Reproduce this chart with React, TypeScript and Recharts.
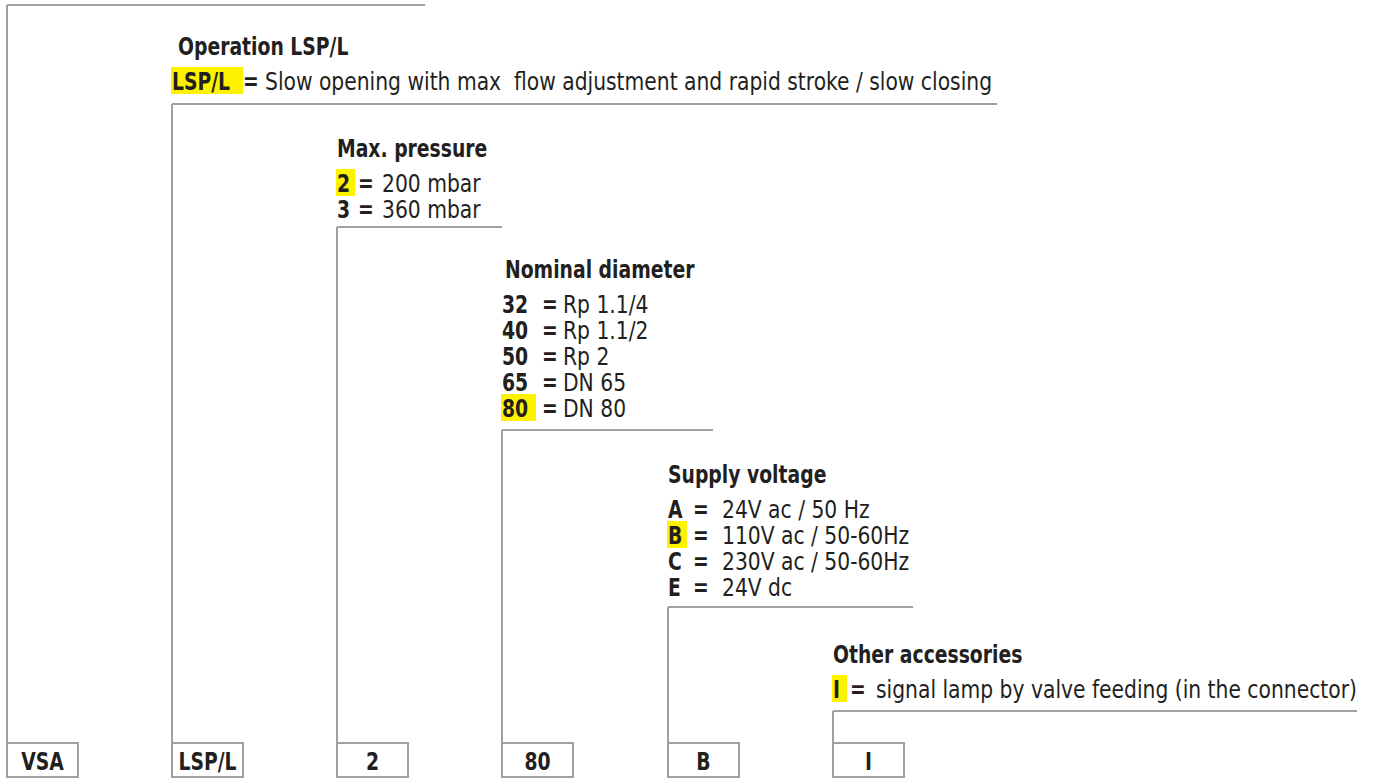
import React from "react";
import {
  ComposedChart,
  XAxis,
  YAxis,
  Scatter,
  ReferenceLine,
  ReferenceArea,
} from "recharts";

// ordering code, one entry per box
const boxCodes = ["VSA", "LSP/L", "2", "80", "B", "I"];

const groupTitles = [
  "Operation LSP/L",
  "Max. pressure",
  "Nominal diameter",
  "Supply voltage",
  "Other accessories",
];

const operationCodes = ["LSP/L"];
const operationDescs = ["Slow opening with max  flow adjustment and rapid stroke / slow closing"];
const pressureCodes = ["2", "3"];
const pressureDescs = ["200 mbar", "360 mbar"];
const diameterCodes = ["32", "40", "50", "65", "80"];
const diameterDescs = ["Rp 1.1/4", "Rp 1.1/2", "Rp 2", "DN 65", "DN 80"];
const voltageCodes = ["A", "B", "C", "E"];
const voltageDescs = ["24V ac / 50 Hz", "110V ac / 50-60Hz", "230V ac / 50-60Hz", "24V dc"];
const accessoryCodes = ["I"];
const accessoryDescs = ["signal lamp by valve feeding (in the connector)"];

const groupCodes = [operationCodes, pressureCodes, diameterCodes, voltageCodes, accessoryCodes];
const groupDescs = [operationDescs, pressureDescs, diameterDescs, voltageDescs, accessoryDescs];

// layout (pixel space of the 1373x778 canvas)
const W = 1373;
const H = 778;
const COL_X = [7, 172, 337, 502, 668, 833];
const RULE_Y = [5, 104, 227, 430, 607, 711];
const RULE_END = [425, 997, 502, 713, 913, 1357];
const HEAD_Y = [55, 157, 278, 483, 663];
const HEAD_DX = [6, 0, 3, 0, 0];
const EQ_DX = [71, 21, 40, 25, 17];
const DESC_DX = [93, 45, 61, 54, 43];
const HILITE_W = [72, 19, 35, 20, 15];
const FIRST_GAP = 35;
const ROW_GAP = 26;
const BOX_TOP = 743;
const BOX_BOTTOM = 777;
const BOX_W = 71;

const FONT = "'Liberation Sans Narrow', 'DejaVu Sans Condensed', 'Roboto', sans-serif";
const INK = "#231f20";
const RULE = "#a0a0a0";
const HILITE = "#fff200";
const FS = 24;
// the reference face is condensed; squeeze the installed one to match
const SX_BOLD = 0.87;
const SX_REG = 0.94;

interface Label {
  x: number;
  y: number;
  text: string;
  bold: boolean;
  anchor: "start" | "middle";
}

const labels: Label[] = [];
const highlights: { x1: number; x2: number; y1: number; y2: number }[] = [];

groupTitles.forEach((title, g) => {
  const col = COL_X[g + 1];
  labels.push({ x: col + HEAD_DX[g], y: HEAD_Y[g], text: title, bold: true, anchor: "start" });
  groupCodes[g].forEach((code, k) => {
    const y = HEAD_Y[g] + FIRST_GAP + k * ROW_GAP;
    labels.push({ x: col, y, text: code, bold: true, anchor: "start" });
    labels.push({ x: col + EQ_DX[g], y, text: "=", bold: true, anchor: "start" });
    labels.push({ x: col + DESC_DX[g], y, text: groupDescs[g][k], bold: false, anchor: "start" });
    if (code === boxCodes[g + 1]) {
      highlights.push({ x1: col - 1, x2: col - 1 + HILITE_W[g], y1: y - 23, y2: y + 4 });
    }
  });
});

boxCodes.forEach((code, i) => {
  labels.push({ x: COL_X[i] + BOX_W / 2, y: 770, text: code, bold: true, anchor: "middle" });
});

const renderText = (props: any) => {
  const { cx, cy, payload } = props;
  const sx = payload.bold ? SX_BOLD : SX_REG;
  return (
    <text
      x={0}
      y={0}
      transform={`translate(${cx},${cy}) scale(${sx},1)`}
      fontFamily={FONT}
      fontSize={FS}
      fontWeight={payload.bold ? 700 : 400}
      fill={INK}
      textAnchor={payload.anchor}
      style={{ whiteSpace: "pre" }}
    >
      {payload.text}
    </text>
  );
};

export default function App() {
  return (
    <div style={{ position: "absolute", left: 0, top: 0, width: W, height: H, background: "#fff" }}>
      <ComposedChart width={W} height={H} margin={{ top: 0, right: 0, bottom: 0, left: 0 }}>
        <XAxis type="number" dataKey="x" domain={[0, W]} allowDataOverflow hide />
        <YAxis type="number" dataKey="y" domain={[0, H]} allowDataOverflow reversed hide />
        {highlights.map((h, i) => (
          <ReferenceArea
            key={`h${i}`}
            x1={h.x1}
            x2={h.x2}
            y1={h.y1}
            y2={h.y2}
            fill={HILITE}
            fillOpacity={1}
            stroke="none"
            ifOverflow="visible"
          />
        ))}
        {COL_X.map((x, i) => (
          <ReferenceLine
            key={`hr${i}`}
            segment={[
              { x, y: RULE_Y[i] },
              { x: RULE_END[i], y: RULE_Y[i] },
            ]}
            stroke={RULE}
            strokeWidth={2}
            ifOverflow="visible"
          />
        ))}
        {COL_X.map((x, i) => (
          <ReferenceLine
            key={`vr${i}`}
            segment={[
              { x, y: RULE_Y[i] },
              { x, y: BOX_TOP },
            ]}
            stroke={RULE}
            strokeWidth={2}
            ifOverflow="visible"
          />
        ))}
        {COL_X.map((x, i) => (
          <ReferenceArea
            key={`b${i}`}
            x1={x}
            x2={x + BOX_W}
            y1={BOX_TOP}
            y2={BOX_BOTTOM}
            fill="#fff"
            fillOpacity={1}
            stroke={RULE}
            strokeWidth={2}
            ifOverflow="visible"
          />
        ))}
        <Scatter data={labels} dataKey="y" shape={renderText} isAnimationActive={false} />
      </ComposedChart>
    </div>
  );
}
